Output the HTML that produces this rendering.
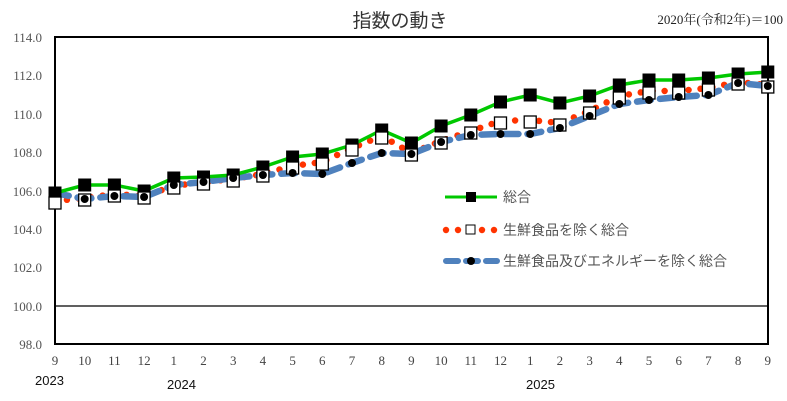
<!DOCTYPE html>
<html><head><meta charset="utf-8"><style>body{margin:0;background:#fff}svg{display:block}</style></head>
<body>
<svg id="s" width="787" height="401" xmlns="http://www.w3.org/2000/svg" font-family="Liberation Serif, 'Noto Serif CJK SC', serif">
<rect width="787" height="401" fill="#fff"/>
<text x="400" y="27" font-size="19" text-anchor="middle" fill="#333" font-family="Liberation Sans, 'Noto Sans CJK JP', sans-serif">指数の動き</text>
<text x="783" y="24" font-size="13" text-anchor="end" fill="#222" font-family="Liberation Serif, 'Noto Serif CJK JP', serif">2020年(令和2年)＝100</text>
<g font-size="13" fill="#555" text-anchor="end">
<text x="42" y="42">114.0</text><text x="42" y="80">112.0</text><text x="42" y="119">110.0</text><text x="42" y="157">108.0</text><text x="42" y="196">106.0</text><text x="42" y="234">104.0</text><text x="42" y="272">102.0</text><text x="42" y="311">100.0</text><text x="42" y="349">98.0</text>
</g>
<line x1="55" y1="306" x2="768" y2="306" stroke="#000" stroke-width="1.2"/>
<rect x="55" y="37" width="713" height="307" fill="none" stroke="#000" stroke-width="2"/>
<g id="ax" font-size="13" fill="#444" text-anchor="middle"></g>
<g font-size="13" fill="#111" font-family="Liberation Sans, sans-serif"><text x="35" y="385">2023</text><text x="167" y="389">2024</text><text x="526" y="389">2025</text></g>
<g id="series"></g>
<g font-family="Liberation Sans, 'Noto Sans CJK JP', sans-serif" font-size="14" fill="#555">
<line x1="445" y1="197" x2="497" y2="197" stroke="#00c800" stroke-width="3"/><rect x="466" y="192" width="10" height="10" fill="#000"/>
<text x="503" y="202">総合</text>
<g fill="#ff3300"><circle cx="446" cy="230" r="3.2"/><circle cx="458" cy="230" r="3.2"/><circle cx="482" cy="230" r="3.2"/><circle cx="494" cy="230" r="3.2"/></g>
<rect x="466" y="225" width="9" height="9" fill="#fff" stroke="#000"/>
<text x="503" y="235">生鮮食品を除く総合</text>
<line x1="446" y1="261" x2="497" y2="261" stroke="#4f81bd" stroke-width="6" stroke-linecap="round" stroke-dasharray="12,8"/>
<circle cx="471" cy="261" r="4" fill="#000"/>
<text x="503" y="266">生鮮食品及びエネルギーを除く総合</text>
</g>
</svg>
<script>
const X=i=>55+i*29.7;
const g=[193,185,185,191,178,177,175,167,157,154,145,130,143,126,115,102,95,103,96,85,80,80,78,74,72];
const sq=[203,200,196,198,188,184,181,176,168,164,150,138,155,143,133,123,122,125,113,98,93,93,90,84,87];
const rd=sq.map(v=>v-2);
const b=[193,199,196,197,185,182,178,175,173,174,163,153,154,142,135,134,134,128,116,104,100,97,95,83,86];
const labs=[9,10,11,12,1,2,3,4,5,6,7,8,9,10,11,12,1,2,3,4,5,6,7,8,9];
let h='';
const pts=a=>a.map((v,i)=>X(i).toFixed(1)+','+v).join(' ');
h+=`<polyline points="${pts(rd)}" fill="none" stroke="#ff3300" stroke-width="6.5" stroke-linecap="round" stroke-dasharray="0,12"/>`;
h+=`<polyline points="${pts(b)}" fill="none" stroke="#4f81bd" stroke-width="6.5" stroke-linecap="round" stroke-dasharray="14,9"/>`;
h+=`<polyline points="${pts(g)}" fill="none" stroke="#00c800" stroke-width="3.5"/>`;
g.forEach((v,i)=>h+=`<rect x="${X(i)-6.5}" y="${v-6.5}" width="13" height="13" fill="#000"/>`);
sq.forEach((v,i)=>h+=`<rect x="${X(i)-6}" y="${v-6}" width="12" height="12" fill="#fff" stroke="#000" stroke-width="1.3"/>`);
b.forEach((v,i)=>h+=`<circle cx="${X(i)}" cy="${v}" r="4" fill="#000"/>`);
document.getElementById('series').innerHTML=h;
let a='';labs.forEach((l,i)=>a+=`<text x="${X(i)}" y="365">${l}</text>`);
document.getElementById('ax').innerHTML=a;
</script>
</body></html>
